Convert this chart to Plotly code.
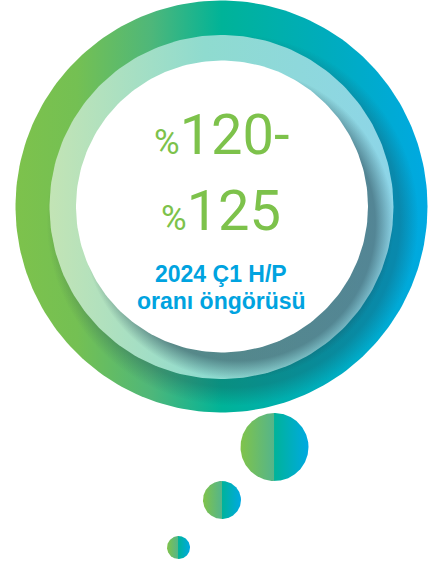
import numpy as np
import plotly.graph_objects as go

# ---- content ----
headline_lines = ["120-", "125"]
headline_prefix = "%"
subtitle_lines = ["2024 Ç1 H/P", "oranı öngörüsü"]

green = "#7dc24b"
blue = "#00a3e0"

outer_scale = [[0, "#7dc24c"], [0.15, "#74c053"], [0.33, "#4eb77a"], [0.5, "#00b398"], [0.75, "#00acbc"], [1, "#00a9e2"]]
ring_scale = [[0, "#c3e4b5"], [0.45, "#8fdbcf"], [1, "#8dd5e8"]]
bubble_scale = [[0, "#80c34a"], [0.49, "#55b58a"], [0.5, "#00b39a"], [1, "#00a9e2"]]

W, H = 438, 564

# circles: (cx, cy, r)
outer = (221.5, 206.5, 206)
ring = (221.5, 207, 172)
inner = (222, 206.5, 146)
bubbles = [(274.5, 447, 34), (222, 500, 19), (178.5, 547.5, 11.5)]


def circle_xy(cx, cy, r, n=240):
    t = np.linspace(0, 2 * np.pi, n)
    return cx + r * np.cos(t), cy + r * np.sin(t)


def disc(c, grad=None, color=None):
    x, y = circle_xy(*c)
    kw = dict(x=x, y=y, mode="lines", fill="toself", line=dict(width=0),
              hoverinfo="skip", showlegend=False)
    if grad is not None:
        kw["fillgradient"] = grad
        kw["fillcolor"] = "rgba(0,0,0,0)"
    else:
        kw["fillcolor"] = color
    return go.Scatter(**kw)


def shadow(c, alpha, inner_frac):
    col = "rgba(30,60,75,%s)"
    return disc(c, grad=dict(type="radial", colorscale=[
        [0, col % alpha], [inner_frac, col % alpha], [1, col % 0]]))


fig = go.Figure()
fig.add_trace(disc(outer, grad=dict(type="horizontal", colorscale=outer_scale)))
fig.add_trace(shadow((ring[0] + 11, ring[1] + 13, ring[2] + 14), 0.3, 0.9))
fig.add_trace(disc(ring, grad=dict(type="horizontal", colorscale=ring_scale)))
fig.add_trace(shadow((inner[0] + 16, inner[1] + 17, inner[2] + 10), 0.52, 0.88))
fig.add_trace(disc(inner, color="#ffffff"))
for b in bubbles:
    fig.add_trace(disc(b, grad=dict(type="horizontal", colorscale=bubble_scale)))

num_font = "Roboto, Liberation Sans, Arial"
ann = []
for i, (txt, yc) in enumerate(zip(headline_lines, [135, 210.5])):
    ann.append(dict(
        x=222 if i == 0 else 221, y=yc, xref="x", yref="y", showarrow=False,
        xanchor="center", yanchor="middle",
        text='<span style="font-size:35px">%s</span>%s' % (headline_prefix, txt),
        font=dict(family=num_font, size=56, color=green)))
for txt, yc in zip(subtitle_lines, [273.5, 301]):
    ann.append(dict(
        x=221, y=yc, xref="x", yref="y", showarrow=False,
        xanchor="center", yanchor="middle", text="<b>%s</b>" % txt,
        font=dict(family="Liberation Sans, Arial", size=23, color=blue)))

fig.update_layout(
    width=W, height=H, margin=dict(l=0, r=0, t=0, b=0),
    paper_bgcolor="white", plot_bgcolor="white",
    xaxis=dict(range=[0, W], visible=False, fixedrange=True),
    yaxis=dict(range=[H, 0], visible=False, fixedrange=True),
    annotations=ann, showlegend=False,
)
fig.write_html("out.html", config={"displayModeBar": False, "staticPlot": True},
               post_script="document.body.style.margin='0';document.body.style.overflow='hidden';")
